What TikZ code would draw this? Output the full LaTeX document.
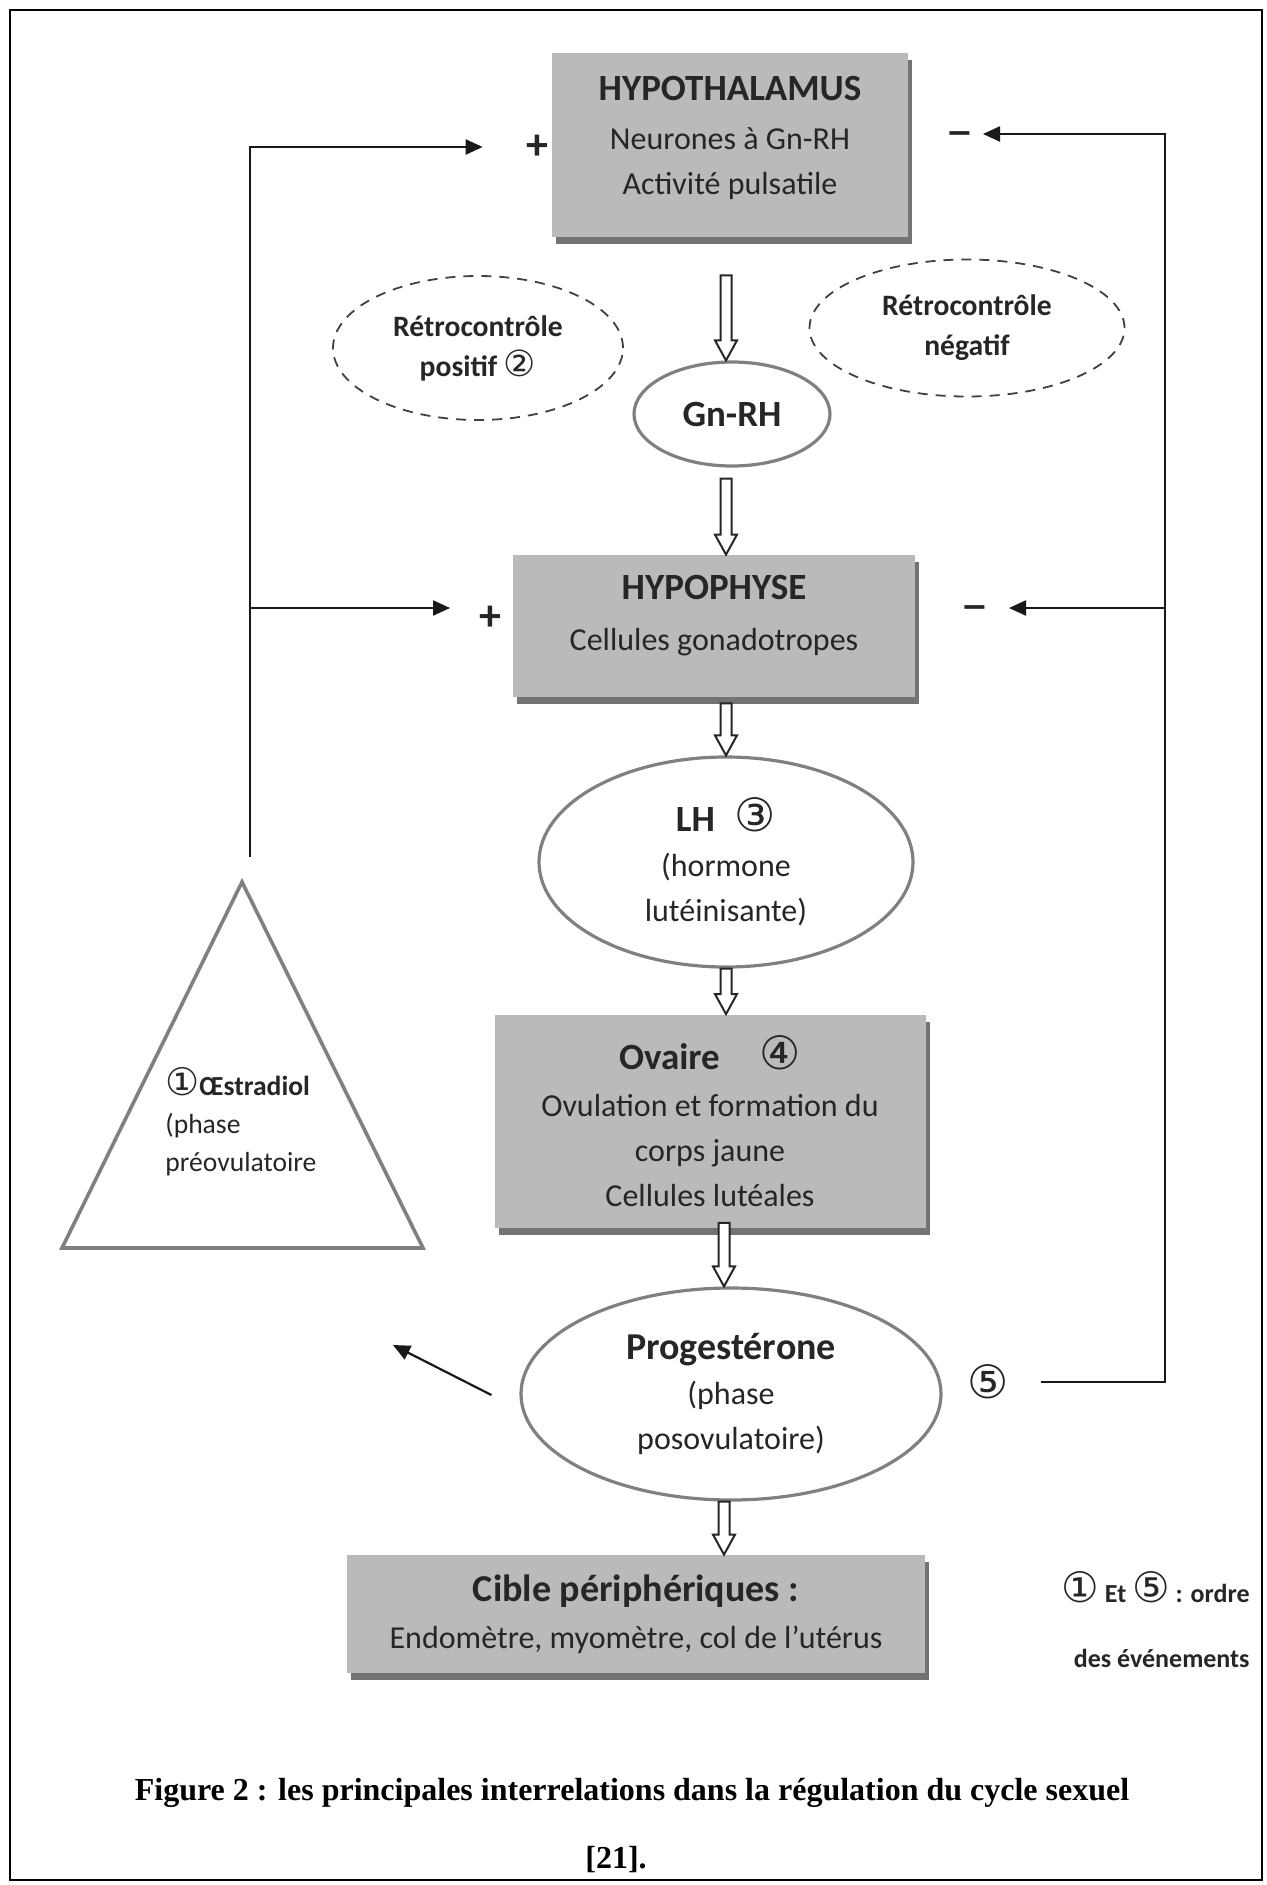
\documentclass[tikz,border=0pt]{standalone}
\usepackage{fontspec}
\setmainfont{Carlito}
\newfontfamily\symfont{DejaVu Sans}
\newfontfamily\capfont{Liberation Serif}
\usetikzlibrary{shapes.geometric,arrows.meta,calc,shadows}
\newcommand{\cn}[1]{{\symfont\mdseries #1}}

\begin{document}
\begin{tikzpicture}
[x=0.5pt, y=-0.5pt, font=\fontsize{16}{22.5}\selectfont, text=black!85]
\tikzstyle{greybox}=[rectangle, fill=black!27, inner sep=0pt, align=center,
  drop shadow={shadow xshift=2pt, shadow yshift=-3.5pt, fill=black!55, opacity=1}]
\tikzstyle{hormone}=[ellipse, draw=black!50, line width=1.6pt, fill=white, inner sep=0pt, align=center]
\tikzstyle{retro}=[ellipse, draw=black!75, dash pattern=on 5pt off 4pt, line width=0.9pt,
  inner sep=0pt, align=center, font=\fontsize{14.8}{20}\selectfont\bfseries]
\tikzstyle{feedback}=[draw=black!90, line width=1.1pt, -{Triangle[length=8.5pt,width=7.5pt]}]
\tikzstyle{sign}=[inner sep=0pt, font=\fontsize{22}{22}\selectfont\bfseries]
\tikzstyle{hollow}=[draw=black!85, line width=1pt, fill=white, line join=miter,
  to path={($(\tikztostart)+(-5.5,0)$) -- ($(\tikztostart |- \tikztotarget)+(-5.5,-20)$)
    -- ($(\tikztostart |- \tikztotarget)+(-11,-20)$) -- (\tikztostart |- \tikztotarget)
    -- ($(\tikztostart |- \tikztotarget)+(11,-20)$) -- ($(\tikztostart |- \tikztotarget)+(5.5,-20)$)
    -- ($(\tikztostart)+(5.5,0)$) -- cycle}]

\useasboundingbox (0,0) rectangle (1266,1885);
\draw[line width=1pt] (10,10) rectangle (1262,1880);

% main column
\coordinate (col) at (726,0);
\node[greybox, minimum width=178pt, minimum height=92pt, text depth=9.5pt] (hypo) at (730,145)
  {{\fontsize{18.5}{24}\selectfont\bfseries HYPOTHALAMUS}\\[2pt] Neurones à Gn-RH\\ Activité pulsatile};
\node[hormone, minimum width=98pt, minimum height=52pt] (gnrh) at (732,414)
  {\fontsize{18.5}{22}\selectfont\bfseries Gn-RH};
\node[greybox, minimum width=201pt, minimum height=71pt, text depth=13.5pt] (hyp) at (714,626)
  {{\fontsize{18.5}{24}\selectfont\bfseries HYPOPHYSE}\\[3pt] Cellules gonadotropes};
\node[hormone, minimum width=187pt, minimum height=105pt] (lh) at (726,862)
  {{\fontsize{18.5}{24}\selectfont\bfseries LH\hspace{10pt}{\fontsize{23}{24}\selectfont\cn{③}}}\\[0pt] (hormone\\ lutéinisante)};
\node[greybox, minimum width=215.5pt, minimum height=106.5pt] (ov) at (710,1121)
  {{\fontsize{18.5}{24}\selectfont\bfseries Ovaire\hspace{20pt}{\fontsize{23}{24}\selectfont\cn{④}}}\\[1pt]
   Ovulation et formation du\\ corps jaune\\ Cellules lutéales};
\node[hormone, minimum width=210pt, minimum height=106pt] (prog) at (731,1394)
  {{\fontsize{19}{24}\selectfont\bfseries Progestérone}\\ (phase\\ posovulatoire)};
\node[greybox, minimum width=289pt, minimum height=59pt] (cible) at (636,1614)
  {{\fontsize{19}{24}\selectfont\bfseries Cible périphériques :}\\[1pt] Endomètre, myomètre, col de l’utérus};

% hollow arrows
\draw[hollow] (hypo.south -| col) ++(0,38) to (gnrh.north);
\draw[hollow] (gnrh.south -| col) ++(0,11) to (hyp.north);
\draw[hollow] (hyp.south -| col) ++(0,6) to (lh.north);
\draw[hollow] (lh.south -| col) to (ov.north);
\draw[hollow] (ov.south -| col) ++(-2,-5) to (prog.north);
\draw[hollow] (prog.south -| col) ++(-2,0) to (cible.north);

% feedback loops
\node[retro, minimum width=145pt, minimum height=72pt] (retropos) at (478,348)
  {Rétrocontrôle\\ positif {\fontsize{18}{20}\selectfont\cn{②}}};
\node[retro, minimum width=157.5pt, minimum height=68.5pt] (retroneg) at (967,328)
  {Rétrocontrôle\\ négatif};

\coordinate (oes top) at (242,882);
\draw[draw=black!50, line width=1.8pt] (oes top) -- (423,1248) -- (62,1248) -- cycle;
\node[anchor=west, align=left, inner sep=0pt, font=\fontsize{13.8}{19}\selectfont] (oes) at (165,1122)
  {{\bfseries{\fontsize{19}{19}\selectfont\cn{①}}Œstradiol}\\ (phase\\ préovulatoire};

\node[sign] (plus1) at (537,147) {+};
\node[sign] (plus2) at (490,618) {+};
\node[sign, font=\fontsize{16}{16}\selectfont\bfseries] (minus1) at (960,138) {\symfont −};
\node[sign, font=\fontsize{16}{16}\selectfont\bfseries] (minus2) at (975,612) {\symfont −};
\node[font=\fontsize{23}{24}\selectfont, inner sep=0pt] (five) at (988,1382) {\cn{⑤}};

\coordinate (lt) at (250,857);
\coordinate (lmid) at (250,608);
\coordinate (rtop) at (1165,134);
\coordinate (rmid) at (1165,608);
\coordinate (toes) at (393,1345);
\draw[feedback, shorten >=21.5pt] (lt) |- (plus1);
\draw[feedback, shorten >=20pt] (lmid) -- (lmid -| plus2);
\draw[feedback, shorten >=11.5pt] ($(five.east)+(32,0)$) -| (rtop) -- (rtop -| minus1);
\draw[feedback, shorten >=17pt] (rmid) -- (rmid -| minus2);
\draw[feedback] ($(prog.west)+(-28,1)$) -- (toes);

% note and caption
\node[anchor=east, align=right, inner sep=0pt, font=\fontsize{13}{32.5}\selectfont\bfseries] (note) at (1250,1620)
  {{\fontsize{21}{21}\selectfont\cn{①}} Et {\fontsize{21}{21}\selectfont\cn{⑤}} : ordre\\ des événements};
\node[font=\fontsize{16}{20}\selectfont\capfont\bfseries, text=black] (caption) at (632,1793)
  {Figure 2 : les principales interrelations dans la régulation du cycle sexuel};
\node[font=\fontsize{16}{20}\selectfont\capfont\bfseries, text=black] (ref) at (616,1860) {[21].};
\end{tikzpicture}
\end{document}
